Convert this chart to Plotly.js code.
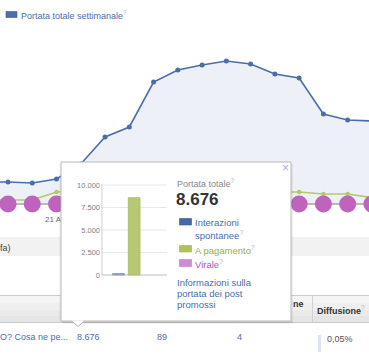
<!DOCTYPE html>
<html><head><meta charset="utf-8">
<script src="https://cdn.plot.ly/plotly-3.0.1.min.js"></script>
<style>html,body{margin:0;padding:0;background:#fff;overflow:hidden}#chart{width:369px;height:354px}</style>
</head><body><div id="chart"></div>
<script>
// ---- data ----
const dates = ['2013-04-18','2013-04-19','2013-04-20','2013-04-21','2013-04-22','2013-04-23','2013-04-24','2013-04-25','2013-04-26','2013-04-27','2013-04-28','2013-04-29','2013-04-30','2013-05-01','2013-05-02','2013-05-03','2013-05-04'];
const totalReach = [2200,2200,2100,2500,4000,6700,7700,12200,13400,13900,14300,14000,13000,12600,9000,8400,8300];
const paidReach  = [400,400,400,1200,1300,1300,1250,1250,1200,1200,1200,1200,1200,1200,1000,1000,650];
const viralReach = [0,0,0,0,0,0,0,0,0,0,0,0,0,0,0,0,0];
const xTickVals = ['2013-04-21'];
const xTickText = ['21 Apr'];
const postCategories = ['Interazioni spontanee','A pagamento','Virale'];
const postReach = [160, 8590, 0];
const postTickVals = [0,2500,5000,7500,10000];
const postTickText = ['0','2.500','5.000','7.500','10.000'];
const postTotal = '8.676';
const tableRow = ['O? Cosa ne pe...','8.676','89','4','0,05%'];

// ---- helpers (pixel -> paper) ----
const W = 369, H = 354;
const fx = x => x / W;
const fy = y => (H - y) / H;
// x2/y2 helpers for the tooltip mini chart
const u = x => (x - 118.5) / 15.7;
const v = y => (275 - y) * 111.1;
const FONT = 'Liberation Sans, Arial, sans-serif';
const BLUE = '#4a6eaa', GREEN = '#b5c86c', PURPLE = '#be64be';

const traces = [
  {x: dates, y: totalReach, type: 'scatter', mode: 'lines+markers', fill: 'tozeroy',
   fillcolor: '#eef0f7', line: {color: BLUE, width: 1.6}, marker: {color: BLUE, size: 5}, xaxis: 'x', yaxis: 'y'},
  {x: dates, y: paidReach, type: 'scatter', mode: 'lines+markers',
   line: {color: GREEN, width: 1.6}, marker: {color: GREEN, size: 4.5}, xaxis: 'x', yaxis: 'y'},
  {x: dates, y: viralReach, type: 'scatter', mode: 'lines+markers',
   line: {color: '#b8b8b8', width: 2}, marker: {color: PURPLE, size: 17}, xaxis: 'x', yaxis: 'y'},
  {x: postCategories, y: postReach, type: 'bar', width: 0.745, xaxis: 'x2', yaxis: 'y2',
   marker: {color: ['#9aaacb', '#b7c873', '#cf8dcf'], line: {color: ['#7f93bd', '#a6b961', '#ffffff'], width: [0.8, 0.8, 0]}}}
];

const shapes = [];
// background bands (behind everything)
shapes.push({type:'rect', xref:'paper', yref:'paper', layer:'below', x0:fx(0), x1:fx(369), y0:fy(256), y1:fy(237), fillcolor:'#f2f2f2', line:{width:0}});
const hdr = [['#f4f4f4',296,303],['#efefef',303,310],['#eaeaea',310,316],['#e5e5e5',316,322]];
hdr.forEach(h => shapes.push({type:'rect', xref:'paper', yref:'paper', layer:'below', x0:0, x1:1, y0:fy(h[2]), y1:fy(h[1]), fillcolor:h[0], line:{width:0}}));
shapes.push({type:'line', xref:'paper', yref:'paper', layer:'below', x0:0, x1:1, y0:fy(295.5), y1:fy(295.5), line:{color:'#cfcfcf', width:1}});
shapes.push({type:'line', xref:'paper', yref:'paper', layer:'below', x0:0, x1:1, y0:fy(322.5), y1:fy(322.5), line:{color:'#c8c8c8', width:1}});
[153.5, 232.5, 312.5].forEach(x => shapes.push({type:'line', xref:'paper', yref:'paper', layer:'below', x0:fx(x), x1:fx(x), y0:fy(296), y1:fy(322), line:{color:'#d2d2d2', width:1}}));
// diffusion bar in table row
shapes.push({type:'rect', xref:'paper', yref:'paper', layer:'below', x0:fx(318), x1:fx(321), y0:fy(352), y1:fy(335), fillcolor:'#dde4f0', line:{width:0}});

// tooltip white panel (inside x2y2 subplot, drawn above main chart)
shapes.push({type:'rect', xref:'x2', yref:'y2', layer:'below', x0:-3.66, x1:10.99, y0:-5111, y1:12556, fillcolor:'#ffffff', line:{width:0}});
// mini chart grid
postTickVals.forEach(t => shapes.push({type:'line', xref:'x2', yref:'y2', layer:'between', x0:u(102), x1:u(167), y0:t, y1:t,
  line:{color: t === 0 ? '#bdbdbd' : '#e8e8e8', width:1}}));
shapes.push({type:'line', xref:'x2', yref:'y2', layer:'between', x0:u(102), x1:u(102), y0:0, y1:v(184), line:{color:'#cfcfcf', width:1}});

// tooltip border + shadow (top layer)
shapes.push({type:'line', xref:'paper', yref:'paper', layer:'above', x0:fx(62), x1:fx(292), y0:fy(322), y1:fy(322), line:{color:'rgba(0,0,0,0.16)', width:1}});
shapes.push({type:'line', xref:'paper', yref:'paper', layer:'above', x0:fx(63), x1:fx(293), y0:fy(323), y1:fy(323), line:{color:'rgba(0,0,0,0.08)', width:1}});
shapes.push({type:'line', xref:'paper', yref:'paper', layer:'above', x0:fx(292), x1:fx(292), y0:fy(164), y1:fy(322), line:{color:'rgba(0,0,0,0.12)', width:1}});
shapes.push({type:'line', xref:'paper', yref:'paper', layer:'above', x0:fx(60), x1:fx(60), y0:fy(164), y1:fy(321), line:{color:'rgba(0,0,0,0.08)', width:1}});
shapes.push({type:'rect', xref:'paper', yref:'paper', layer:'above', x0:fx(61), x1:fx(291), y0:fy(321), y1:fy(162), line:{color:'#b9b9b9', width:1}});
// pointer triangle
shapes.push({type:'path', xref:'paper', yref:'paper', layer:'above',
  path:`M${fx(71.5)},${fy(320.6)} L${fx(78)},${fy(326.5)} L${fx(84.5)},${fy(320.6)} Z`, fillcolor:'#ffffff', line:{width:0}});
shapes.push({type:'path', xref:'paper', yref:'paper', layer:'above',
  path:`M${fx(71.5)},${fy(321)} L${fx(78)},${fy(326.5)} L${fx(84.5)},${fy(321)}`, line:{color:'#b9b9b9', width:1}});
// legend swatches
shapes.push({type:'rect', xref:'paper', yref:'paper', layer:'above', x0:fx(6), x1:fx(17), y0:fy(17.5), y1:fy(11.5), fillcolor:BLUE, line:{color:'#3a5b94', width:0.6}});
shapes.push({type:'rect', xref:'paper', yref:'paper', layer:'above', x0:fx(179.5), x1:fx(191.5), y0:fy(225), y1:fy(218.5), fillcolor:'#4568a8', line:{color:'#34548e', width:0.6}});
shapes.push({type:'rect', xref:'paper', yref:'paper', layer:'above', x0:fx(179.5), x1:fx(191.5), y0:fy(252), y1:fy(245.5), fillcolor:'#afc25e', line:{color:'#9db24c', width:0.6}});
shapes.push({type:'rect', xref:'paper', yref:'paper', layer:'above', x0:fx(179.5), x1:fx(191.5), y0:fy(266.5), y1:fy(259.5), fillcolor:'#cf8dcf', line:{color:'#c07ac0', width:0.6}});

const Q = '<sup><span style="color:#b0b0b0">?</span></sup>';
function ann(x, y, text, size, color, extra) {
  return Object.assign({xref:'paper', yref:'paper', x:fx(x), y:fy(y), text:text, showarrow:false,
    xanchor:'left', yanchor:'middle', borderpad:0, borderwidth:0,
    font:{family:FONT, size:size, color:color}}, extra || {});
}
const annotations = [
  ann(21, 15, 'Portata totale settimanale' + Q, 9, BLUE),
  ann(177, 183, 'Portata totale' + Q, 9, '#8a8a8a'),
  ann(176, 199.5, '<b>' + postTotal + '</b>', 17, '#333333'),
  ann(195, 222.5, 'Interazioni', 9.5, BLUE),
  ann(195, 235, 'spontanee' + Q, 9.5, BLUE),
  ann(195, 250, 'A pagamento' + Q, 9.5, '#92b13f'),
  ann(195, 264, 'Virale' + Q, 9.5, '#b556b5'),
  ann(177, 282.7, 'Informazioni sulla', 9.5, BLUE),
  ann(177, 293.5, 'portata dei post', 9.5, BLUE),
  ann(177, 304.3, 'promossi', 9.5, BLUE),
  ann(285, 168, '×', 12, '#9fb0cf', {xanchor:'center'}),
  ann(0, 247.5, 'fa)', 9, '#444444'),
  ann(293, 304, '<b>ne</b>', 9, '#333333'),
  ann(317, 310, '<b>Diffusione</b>' + Q, 9, '#333333'),
  ann(0, 337, tableRow[0], 9, BLUE),
  ann(77, 337, tableRow[1], 9, BLUE),
  ann(157, 337, tableRow[2], 9, BLUE),
  ann(237, 337, tableRow[3], 9, BLUE),
  ann(327, 339, tableRow[4], 9, '#555555')
];

const layout = {
  width: W, height: H, margin: {l:0, r:0, t:0, b:0},
  paper_bgcolor: '#ffffff', plot_bgcolor: '#ffffff',
  showlegend: false, hovermode: false, separators: ',.',
  font: {family: FONT},
  xaxis: {type:'date', domain:[0,1], anchor:'y', range:['2013-04-18 16:05','2013-05-03 21:07'],
    tickvals: xTickVals, ticktext: xTickText, showgrid:false, zeroline:false, showline:false, ticks:'',
    tickfont:{family:FONT, size:8, color:'#666666'}},
  yaxis: {domain:[fy(213), fy(30)], anchor:'x', range:[-900, 17400], visible:false},
  xaxis2: {domain:[fx(61), fx(291)], anchor:'y2', type:'category', range:[-3.66, 10.99], visible:false},
  yaxis2: {domain:[fy(321), fy(162)], anchor:'free', position: fx(102), range:[-5111, 12556],
    tickvals: postTickVals, ticktext: postTickText, showgrid:false, zeroline:false, showline:false, ticks:'',
    ticklabelstandoff: 2, tickfont:{family:FONT, size:7.5, color:'#808080'}},
  shapes: shapes, annotations: annotations
};
Plotly.newPlot('chart', traces, layout, {staticPlot:true, displayModeBar:false});
</script></body></html>
